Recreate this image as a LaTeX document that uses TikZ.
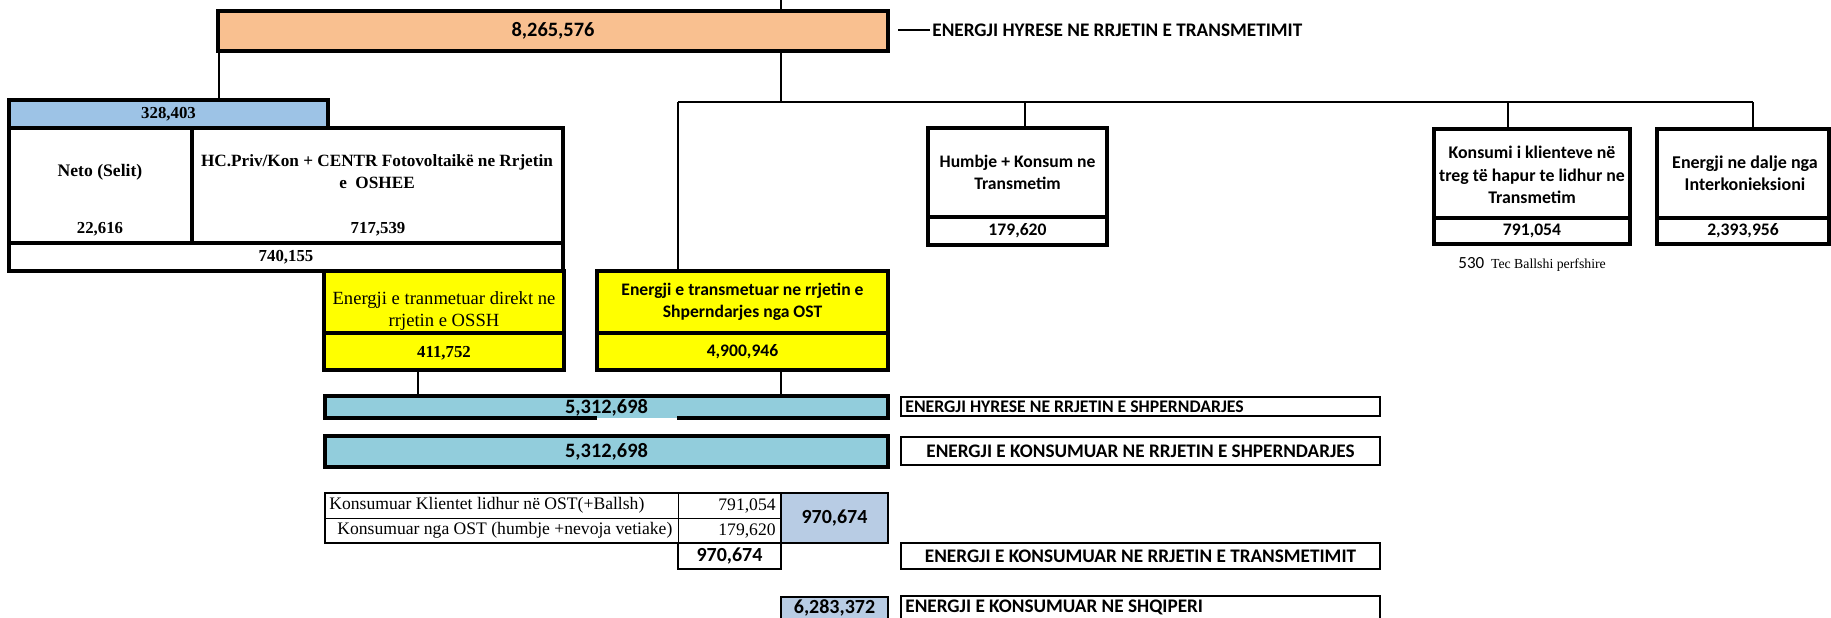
\documentclass[tikz,border=0pt]{standalone}
\usepackage{fontspec}
\setmainfont{Liberation Serif}
\newfontfamily\carlito{Carlito}
\usetikzlibrary{fit}
\definecolor{orangeF}{HTML}{F9C090}
\definecolor{blueF}{HTML}{9DC3E6}
\definecolor{yellowF}{HTML}{FFFF00}
\definecolor{tealF}{HTML}{92CDDC}
\definecolor{lblueF}{HTML}{B8CCE4}
\begin{document}
\begin{tikzpicture}[x=0.5pt,y=-0.5pt,
  cell/.style={draw, line width=1.6pt, inner sep=0pt, outer sep=0pt},
  thincell/.style={draw, line width=0.5pt, inner sep=0pt, outer sep=0pt},
  medcell/.style={draw, line width=1pt, inner sep=0pt, outer sep=0pt},
  lblbox/.style={draw, line width=1pt, inner sep=0pt, outer sep=0pt},
  conn/.style={line width=0.9pt},
  sb/.style={font=\carlito\bfseries\fontsize{8.8}{11}\selectfont, inner sep=0pt, align=center},
  snum/.style={font=\carlito\bfseries\fontsize{10}{12}\selectfont, inner sep=0pt},
  sbig/.style={font=\carlito\bfseries\fontsize{10.2}{12}\selectfont, inner sep=0pt},
  lab/.style={font=\carlito\bfseries\fontsize{9.6}{11}\selectfont, inner sep=0pt},
  tb/.style={font=\bfseries\fontsize{8.8}{11}\selectfont, inner sep=0pt, align=center},
  tbn/.style={font=\bfseries\fontsize{8.4}{10}\selectfont, inner sep=0pt},
  tr/.style={font=\fontsize{8.8}{11}\selectfont, inner sep=0pt},
  ty/.style={font=\fontsize{9.3}{11}\selectfont, inner sep=0pt, align=center},
]
\useasboundingbox (0,0) rectangle (1831,617);

% ---- top: input to transmission
\node[cell, fill=orangeF, fit={(218,11) (888,51)}] (orange) {};
\node[sbig] (orangeT) at (orange.center) {8,265,576};
\coordinate (dash0) at (898,30);
\node[lab, anchor=west] (topL) at (932,30) {ENERGJI HYRESE NE RRJETIN E TRANSMETIMIT};

% ---- left block
\node[cell, fill=blueF, fit={(9,100) (328,128)}] (b328) {};
\node[tbn] (b328T) at (b328.center) {328,403};
\node[cell, fit={(9,128) (192,243)}] (neto) {};
\node[cell, fit={(192,128) (563,243)}] (hc) {};
\node[cell, fit={(9,243) (563,271)}] (tot) {};
\node[tb] (netoT) at (100,172) {Neto (Selit)};
\node[tbn] (netoV) at (100,229) {22,616};
\node[tb, font=\bfseries\fontsize{8.6}{11}\selectfont] (hcT) at (377,172) {HC.Priv/Kon + CENTR Fotovoltaikë ne Rrjetin\\e~~OSHEE};
\node[tbn] (hcV) at (378,229) {717,539};
\node[tbn] (totT) at (tot.center) {740,155};

% ---- yellow boxes
\node[cell, fill=yellowF, fit={(324,271) (564,333)}] (y1top) {};
\node[cell, fill=yellowF, fit={(324,333) (564,370)}] (y1bot) {};
\node[ty] (y1T) at (444,311) {Energji e tranmetuar direkt ne\\rrjetin e OSSH};
\node[tbn] (y1V) at (444,353) {411,752};
\node[cell, fill=yellowF, fit={(597,271) (888,333)}] (y2top) {};
\node[cell, fill=yellowF, fit={(597,333) (888,370)}] (y2bot) {};
\node[sb] (y2T) at (742.5,302) {Energji e transmetuar ne rrjetin e\\Shperndarjes nga OST};
\node[sb] (y2V) at (742.5,352) {4,900,946};

% ---- distribution input (border broken under the number)
\node[fill=tealF, inner sep=0pt, outer sep=0pt, fit={(325,396) (888,418)}] (bA) {};
\coordinate (gl) at (597,0);
\coordinate (gr) at (677,0);
\draw[line width=1.6pt] (bA.south -| gl) -- (bA.south west) -- (bA.north west) -- (bA.north east) -- (bA.south east) -- (bA.south -| gr);
\node[sbig] (bAT) at (606.5,408) {5,312,698};
\node[lblbox, fit={(901,397) (1380,416)}] (lA) {};
\node[lab, font=\carlito\bfseries\fontsize{8.85}{11}\selectfont, anchor=west] (lAT) at (905,406.5) {ENERGJI HYRESE NE RRJETIN E SHPERNDARJES};

\node[cell, fill=tealF, fit={(325,436) (888,467)}] (bB) {};
\node[sbig] (bBT) at (bB.center) {5,312,698};
\node[lblbox, fit={(901,437) (1380,465)}] (lB) {};
\node[lab] (lBT) at (lB.center) {ENERGJI E KONSUMUAR NE RRJETIN E SHPERNDARJES};

% ---- table
\node[thincell, fit={(325,493) (678,518)}] (ta1) {};
\node[thincell, fit={(325,518) (678,543)}] (ta2) {};
\node[thincell, fit={(678,493) (781,518)}] (tb1) {};
\node[thincell, fit={(678,518) (781,543)}] (tb2) {};
\node[medcell, fit={(325,493) (781,543)}] (tblock) {};
\node[tr, anchor=west] (ta1T) at (329,505.5) {Konsumuar Klientet lidhur në OST(+Ballsh)};
\node[tr, anchor=west] (ta2T) at (337,530.5) {Konsumuar nga OST (humbje +nevoja vetiake)};
\node[tr, anchor=east] (tb1T) at (776,505.5) {791,054};
\node[tr, anchor=east] (tb2T) at (776,530.5) {179,620};
\node[medcell, fill=lblueF, fit={(781,493) (888,543)}] (tc) {};
\node[snum] (tcT) at (tc.center) {970,674};
\node[medcell, fit={(678,543) (781,569)}] (tsum) {};
\node[snum] (tsumT) at (tsum.center) {970,674};
\node[lblbox, fit={(901,543) (1380,569)}] (lC) {};
\node[lab] (lCT) at (lC.center) {ENERGJI E KONSUMUAR NE RRJETIN E TRANSMETIMIT};

% ---- total Albania
\node[medcell, fill=lblueF, fit={(781,597) (888,624)}] (bF) {};
\node[snum] (bFT) at (834.5,607.5) {6,283,372};
\node[lblbox, fit={(901,596) (1380,624)}] (lD) {};
\node[lab, anchor=west] (lDT) at (905,607) {ENERGJI E KONSUMUAR NE SHQIPERI};

% ---- right boxes
\node[cell, fit={(928,128) (1107,217)}] (humT) {};
\node[cell, fit={(928,217) (1107,245)}] (humV) {};
\node[sb] (humTT) at (1017.5,172.5) {Humbje + Konsum ne\\Transmetim};
\node[sb] (humVT) at (humV.center) {179,620};

\node[cell, fit={(1434,129) (1630,218)}] (konT) {};
\node[cell, fit={(1434,218) (1630,244)}] (konV) {};
\node[sb, font=\carlito\bfseries\fontsize{8.9}{11.3}\selectfont] (konTT) at (1532,175) {Konsumi i klienteve në\\treg të hapur te lidhur ne\\Transmetim};
\node[sb] (konVT) at (konV.center) {791,054};
\node[font=\carlito\fontsize{8.5}{10}\selectfont, inner sep=0pt, anchor=base west] (n530) at (1458,268) {530};
\node[font=\fontsize{6.9}{8}\selectfont, inner sep=0pt, anchor=base west] (tec) at ([xshift=3pt]n530.base east) {Tec Ballshi perfshire};

\node[cell, fit={(1657,129) (1829,218)}] (dalT) {};
\node[cell, fit={(1657,218) (1829,244)}] (dalV) {};
\node[sb, font=\carlito\bfseries\fontsize{9}{11}\selectfont] (dalTT) at (1745,173) {Energji ne dalje nga\\Interkonieksioni};
\node[sb] (dalVT) at (dalV.center) {2,393,956};

% ---- connectors
\coordinate (xtop) at (781,0);
\draw[conn] (xtop) -- (orange.north -| xtop);
\draw[conn] (dash0) -- ([xshift=-1pt]topL.west);
\coordinate (xa) at (219,0);
\draw[conn] (orange.south -| xa) -- (b328.north -| xa);
\coordinate (hub) at (781,102);
\coordinate (hl) at (678,102);
\coordinate (hr) at (1753,102);
\draw[conn] (orange.south -| hub) -- (hub);
\draw[conn] (hl) -- (hr);
\draw[conn] (hl) -- (y2top.north -| hl);
\coordinate (xh) at (1025,102);
\draw[conn] (xh) -- (humT.north -| xh);
\coordinate (xk) at (1508,102);
\draw[conn] (xk) -- (konT.north -| xk);
\draw[conn] (hr) -- (dalT.north -| hr);
\coordinate (x1) at (418,0);
\draw[conn] (y1bot.south -| x1) -- (bA.north -| x1);
\coordinate (x2) at (781,0);
\draw[conn] (y2bot.south -| x2) -- (bA.north -| x2);
\end{tikzpicture}
\end{document}
